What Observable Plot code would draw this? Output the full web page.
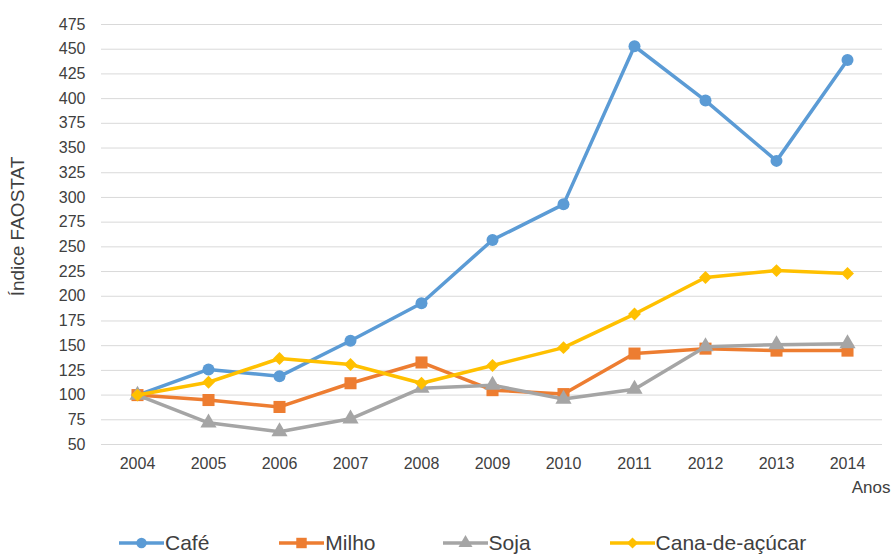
<!DOCTYPE html>
<html>
<head>
<meta charset="utf-8">
<script src="https://cdn.jsdelivr.net/npm/d3@7"></script>
<script src="https://cdn.jsdelivr.net/npm/@observablehq/plot@0.6"></script>
<style>
  body { margin: 0; background: #fff; font-family: "Liberation Sans", Arial, sans-serif; }
  #legend { display: flex; justify-content: flex-start; align-items: center; height: 44px; margin-top: 11px; padding-left: 118px; box-sizing: border-box; }
  .item { display: flex; align-items: center; font-size: 21px; color: #404040; }
  .item svg { display: block; }
</style>
</head>
<body>
<div id="chart"></div>
<div id="legend"></div>
<script>
const years = [2004, 2005, 2006, 2007, 2008, 2009, 2010, 2011, 2012, 2013, 2014];
const cafe  = [100, 126, 119, 155, 193, 257, 293, 453, 398, 337, 439];
const milho = [100, 95, 88, 112, 133, 105, 101, 142, 147, 145, 145];
const soja  = [100, 72, 63, 76, 107, 110, 96, 106, 149, 151, 152];
const cana  = [100, 113, 137, 131, 112, 130, 148, 182, 219, 226, 223];
const seriesNames = ["Café", "Milho", "Soja", "Cana-de-açúcar"];
const seriesValues = [cafe, milho, soja, cana];
const colors = ["#5B9BD5", "#ED7D31", "#A5A5A5", "#FFC000"];
const symbols = ["circle", "square", "triangle", "diamond2"];
const radii = [6, 6.8, 6, 5.8];
const yTicks = d3.range(50, 476, 25);

const rows = seriesNames.map((name, i) =>
  years.map((yr, j) => ({ series: name, year: String(yr), value: seriesValues[i][j] })));

const marks = [
  Plot.gridY(yTicks, { stroke: "#d9d9d9", strokeOpacity: 1, strokeWidth: 1 }),
  Plot.axisY(yTicks, { tickSize: 0, tickPadding: 16, fontSize: 16, fill: "#404040", label: null }),
  Plot.axisX({ tickSize: 0, tickPadding: 13, fontSize: 16, fill: "#404040", label: null }),
  Plot.text(["Anos"], { frameAnchor: "bottom-right", dx: 8, dy: 48, fontSize: 17, fill: "#404040", textAnchor: "end" }),
  Plot.text(["Índice FAOSTAT"], { frameAnchor: "left", dx: -84, dy: -8, rotate: -90, textAnchor: "middle", fontSize: 19, fill: "#404040" })
];
rows.forEach((data, i) => {
  marks.push(Plot.line(data, { x: "year", y: "value", stroke: colors[i], strokeWidth: 3.5 }));
  marks.push(Plot.dot(data, { x: "year", y: "value", fill: colors[i], stroke: "none", symbol: symbols[i], r: radii[i] }));
});

const chart = Plot.plot({
  width: 894,
  height: 510,
  marginLeft: 101,
  marginRight: 12,
  marginTop: 24,
  marginBottom: 66,
  style: { fontFamily: "Liberation Sans, Arial, sans-serif", background: "#fff" },
  x: { type: "point", domain: years.map(String), padding: 0.5 },
  y: { domain: [50, 475] },
  marks
});
document.getElementById("chart").appendChild(chart);

// legend
const legend = d3.select("#legend");
const gaps = [0, 69, 66, 78];
const symMap = { circle: d3.symbolCircle, square: d3.symbolSquare, triangle: d3.symbolTriangle, diamond2: d3.symbolDiamond2 };
seriesNames.forEach((name, i) => {
  const item = legend.append("div").attr("class", "item").style("margin-left", gaps[i] + "px");
  const svg = item.append("svg").attr("width", 47).attr("height", 20);
  svg.append("line").attr("x1", 1).attr("x2", 46).attr("y1", 10).attr("y2", 10)
    .attr("stroke", colors[i]).attr("stroke-width", 3.5);
  svg.append("path").attr("transform", "translate(23.5,10)")
    .attr("d", d3.symbol(symMap[symbols[i]], Math.PI * radii[i] * radii[i] * 0.75)())
    .attr("fill", colors[i]);
  item.append("span").text(name);
});
</script>
</body>
</html>
